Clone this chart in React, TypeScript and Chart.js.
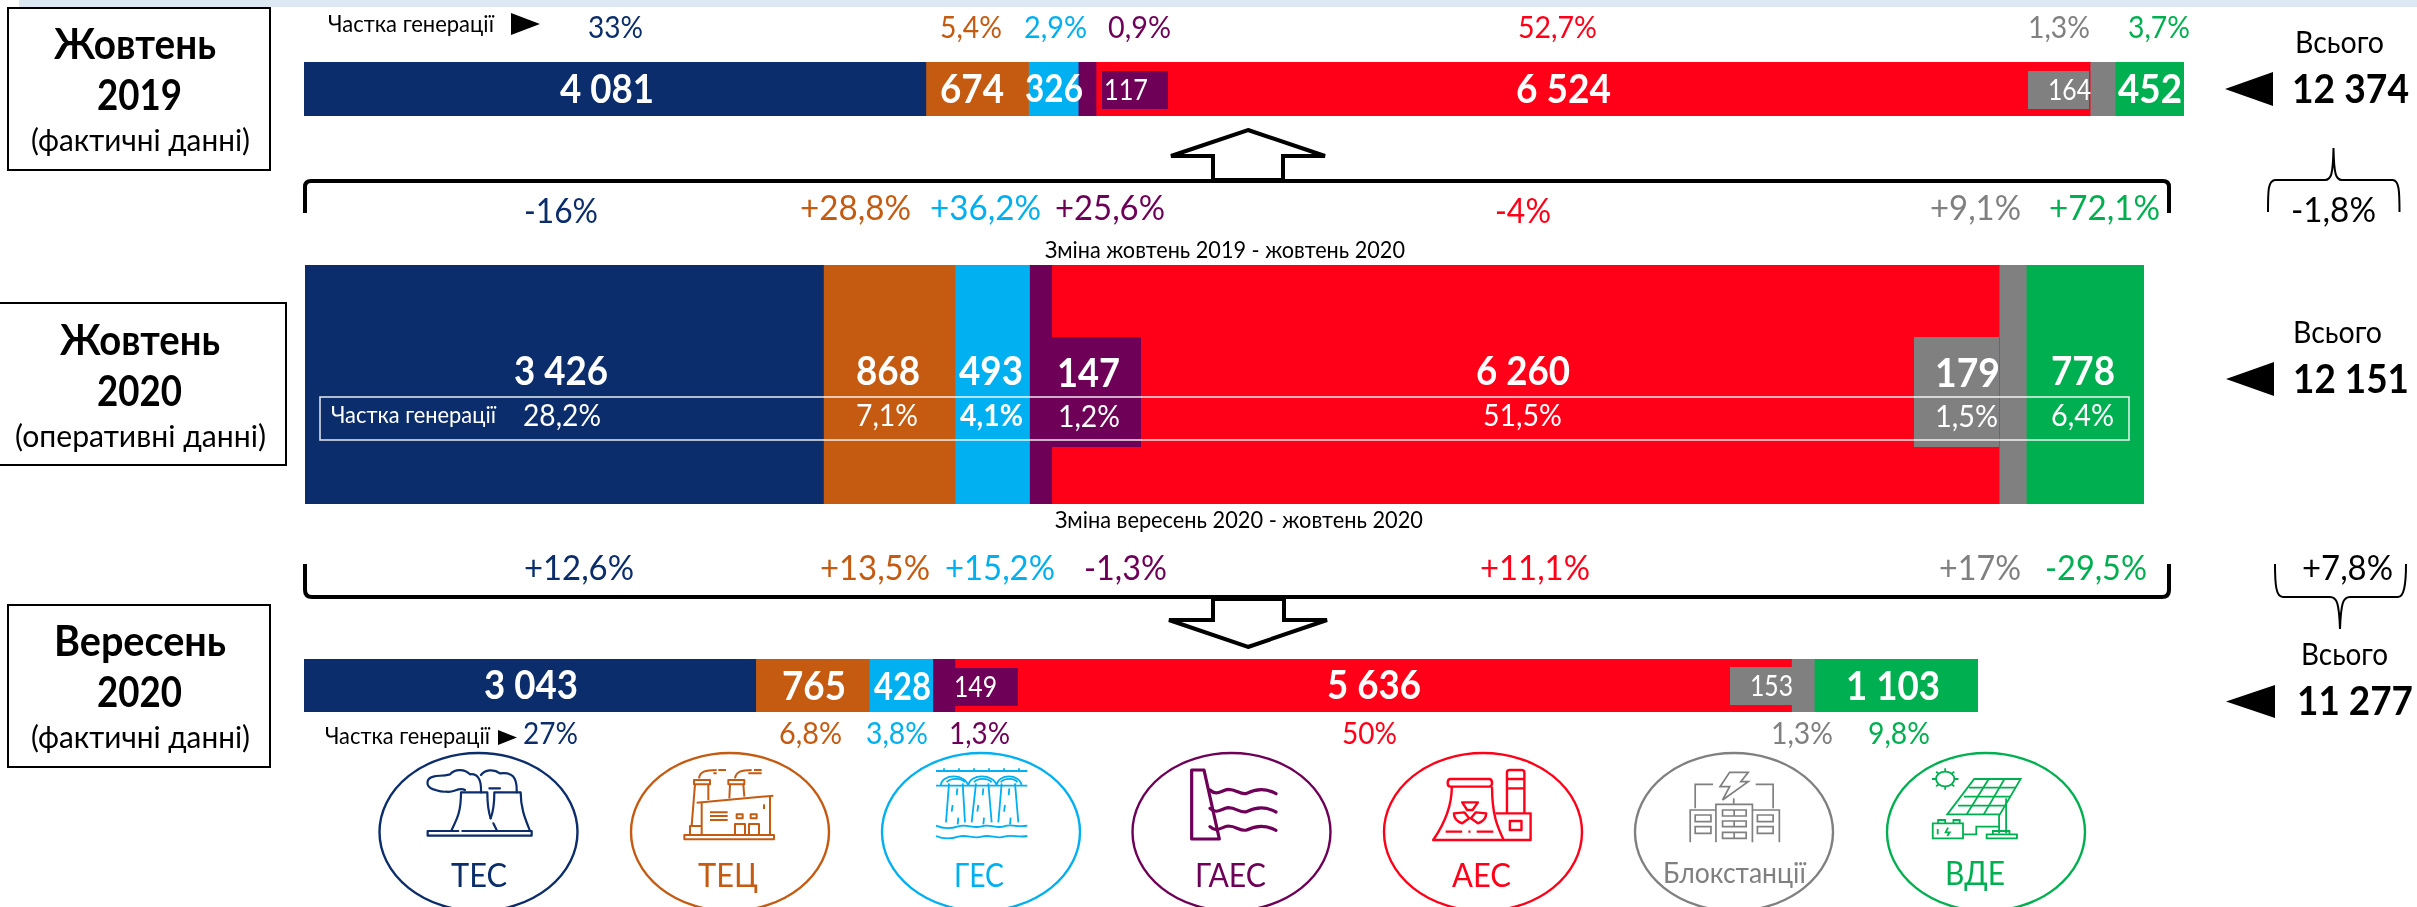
import React, { useEffect, useRef } from "react";
import { Chart, registerables } from "chart.js";

Chart.register(...registerables);

const categories = ["ТЕС", "ТЕЦ", "ГЕС", "ГАЕС", "АЕС", "Блокстанції", "ВДЕ"];
const oct2019 = [4081, 674, 326, 117, 6524, 164, 452];
const oct2020 = [3426, 868, 493, 147, 6260, 179, 778];
const sep2020 = [3043, 765, 428, 149, 5636, 153, 1103];
const share2019 = [33, 5.4, 2.9, 0.9, 52.7, 1.3, 3.7];
const share2020 = [28.2, 7.1, 4.1, 1.2, 51.5, 1.5, 6.4];
const shareSep = [27, 6.8, 3.8, 1.3, 50, 1.3, 9.8];
const changeYear = [-16, 28.8, 36.2, 25.6, -4, 9.1, 72.1];
const changeMonth = [12.6, 13.5, 15.2, -1.3, 11.1, 17, -29.5];
const totals = [12374, 12151, 11277];
const totalChanges = [-1.8, 7.8];

const COLORS = ["#0b2d6b", "#c55a11", "#00b0f0", "#6e0058", "#ff0018", "#808080", "#00b050"];
const FONT = "Lato, Carlito, 'Open Sans', sans-serif";

const num = (v: number) => String(v).replace(/\B(?=(\d{3})+$)/g, " ");
const pct = (v: number) => String(v).replace(".", ",") + "%";
const signed = (v: number) => (v > 0 ? "+" : "") + pct(v);

type Box = [number, number, number, number, number];

// layout: x1, x2, baseline, font size, weight
const bar1Layout: Box[] = [
  [560, 654, 103, 36, 700], [940, 1004, 103, 36, 700], [1025, 1083, 102, 34, 700], [1104, 1148, 100, 25, 400],
  [1516, 1611, 103, 36, 700], [2048, 2091, 100, 25, 400], [2118, 2182, 103, 36, 700],
];
const bar2Layout: Box[] = [
  [514, 608, 385, 36, 700], [856, 920, 385, 36, 700], [959, 1023, 385, 36, 700], [1057, 1120, 387, 36, 700],
  [1476, 1570, 385, 36, 700], [1935, 2000, 387, 36, 700], [2051, 2115, 385, 36, 700],
];
const bar3Layout: Box[] = [
  [484, 578, 699, 36, 700], [782, 846, 700, 36, 700], [874, 931, 700, 34, 700], [954, 997, 697, 25, 400],
  [1327, 1421, 699, 36, 700], [1750, 1793, 696, 25, 400], [1846, 1940, 700, 36, 700],
];
const share1Layout: Box[] = [
  [588, 643, 38, 28, 400], [940, 1002, 38, 28, 400], [1024, 1087, 38, 28, 400], [1108, 1171, 38, 28, 400],
  [1518, 1597, 38, 28, 400], [2028, 2090, 38, 28, 400], [2128, 2190, 38, 28, 400],
];
const share2Layout: Box[] = [
  [523, 601, 426, 28, 400], [856, 918, 426, 28, 400], [960, 1023, 426, 28, 700], [1058, 1120, 427, 28, 400],
  [1483, 1562, 426, 28, 400], [1935, 1998, 427, 28, 400], [2051, 2114, 426, 28, 400],
];
const share3Layout: Box[] = [
  [523, 578, 744, 28, 400], [779, 842, 744, 28, 400], [866, 928, 744, 28, 400], [949, 1010, 744, 28, 400],
  [1342, 1397, 744, 28, 400], [1771, 1833, 744, 28, 400], [1868, 1930, 744, 28, 400],
];
const change1Layout: Box[] = [
  [524, 598, 223, 31, 400], [800, 911, 220, 31, 400], [930, 1041, 220, 31, 400], [1055, 1165, 220, 31, 400],
  [1495, 1551, 223, 31, 400], [1930, 2021, 220, 31, 400], [2049, 2160, 220, 31, 400],
];
const change2Layout: Box[] = [
  [524, 634, 580, 31, 400], [820, 930, 580, 31, 400], [945, 1055, 580, 31, 400], [1084, 1167, 580, 31, 400],
  [1480, 1590, 580, 31, 400], [1939, 2021, 580, 31, 400], [2045, 2147, 580, 31, 400],
];
const ellipseCx = [478.5, 730, 981, 1231.5, 1483, 1734, 1986];
const iconLabelLayout: Box[] = [
  [451, 507, 887, 30, 400], [698, 758, 887, 30, 400], [954, 1004, 887, 30, 400], [1195, 1266, 887, 30, 400],
  [1452, 1511, 887, 30, 400], [1663, 1806, 883, 26, 400], [1945, 2005, 885, 30, 400],
];
const barRects: [number[], number, number, number][] = [
  [oct2019, 304, 62, 1880],
  [oct2020, 305, 265, 1839],
  [sep2020, 304, 659, 1674],
];
const barHeights = [54, 239, 53];

const SIZE_FACTOR = 1.12;

function T({ t, b, fill }: { t: string; b: Box; fill: string }) {
  const [x1, x2, y, size, weight] = b;
  return (
    <text x={x1} y={y} textLength={x2 - x1} lengthAdjust="spacingAndGlyphs" fontSize={size * SIZE_FACTOR} fontWeight={weight} fill={fill} fontFamily={FONT}>
      {t}
    </text>
  );
}

function TesIcon() {
  return (
    <g transform="translate(400,755) scale(0.33333)" fill="none" stroke={COLORS[0]} strokeWidth="2.2" strokeLinejoin="round" strokeLinecap="round">
      <path vectorEffect="non-scaling-stroke" d="M175,228 H83 V242 H395 V228 H187" />
      <path vectorEffect="non-scaling-stroke" d="M155,225 C172,190 183,170 183,112 H262 C262,150 265,170 272,190" />
      <path vectorEffect="non-scaling-stroke" d="M280,205 L290,225" />
      <path vectorEffect="non-scaling-stroke" d="M390,228 C375,190 362,160 362,112 H283 C283,150 280,170 272,190" />
      <path vectorEffect="non-scaling-stroke" d="M195,105 C175,95 160,115 140,110 C120,112 110,105 100,103 C75,95 78,70 100,65 C115,60 125,65 150,58 C165,40 195,42 210,58 C230,55 245,70 243,112" />
      <path vectorEffect="non-scaling-stroke" d="M243,60 C255,45 280,40 300,55 C335,50 352,65 350,112" />
      <path vectorEffect="non-scaling-stroke" d="M268,100 H300" />
    </g>
  );
}

function TecIcon() {
  const ds = [
    "M853,240 H1122 V253 H853 Z", "M875,212 L885,88", "M925,135 L925,88", "M882,75 H930 V88 H882 Z", "M985,75 H1033 V88 H985 Z",
    "M990,88 L988,130", "M1030,88 L1033,125", "M890,143 L1120,122", "M905,143 V240", "M1110,125 V240", "M870,240 V213 H905",
    "M897,70 C900,50 915,45 950,45 M955,45 H978 M940,55 H950", "M1005,70 C1008,50 1025,45 1055,45 M1062,45 H1085 M1045,55 H1085",
    "M930,172 H983 M930,183 H983 M930,195 H983", "M1010,178 H1028 V190 H1010 Z", "M1052,178 H1070 V190 H1052 Z",
    "M1005,240 V207 H1035 V240", "M1047,240 V207 H1077 V240", "M1092,148 V162",
  ];
  return (
    <g transform="translate(400,755) scale(0.33333)" fill="none" stroke={COLORS[1]} strokeWidth="2" strokeLinejoin="round">
      {ds.map((d, i) => <path key={i} vectorEffect="non-scaling-stroke" d={d} />)}
    </g>
  );
}

function GesIcon() {
  const ds = [
    "M108,48 H382", "M132,40 V48 M177,40 V48 M222,40 V48 M267,40 V48 M312,40 V48 M357,40 V48", "M108,92 H382",
    "M122,92 C125,55 195,55 205,92 C208,55 282,55 290,92 C293,55 360,55 365,92", "M140,82 C150,68 185,68 195,82 M222,82 C232,68 265,68 275,82 M302,82 C312,68 345,68 352,82",
    "M147,85 L138,202", "M188,85 L195,202", "M228,85 L215,202", "M265,85 L275,202", "M305,85 L295,202", "M345,85 L355,202",
    "M172,100 L170,120 M158,150 L155,170 M175,188 L173,208 M250,100 L248,120 M235,150 L232,170 M252,188 L250,208 M328,100 L326,120 M315,150 L312,170 M332,188 L330,208",
    "M108,212 C130,222 150,222 175,214 C200,206 220,222 245,214 C270,206 290,222 312,214 C335,206 355,218 382,212",
    "M108,243 C130,253 150,253 175,245 C200,237 220,253 245,245 C270,237 290,253 312,245 C335,237 355,249 382,243",
  ];
  return (
    <g transform="translate(900,755) scale(0.33333)" fill="none" stroke={COLORS[2]} strokeWidth="1.8">
      {ds.map((d, i) => <path key={i} vectorEffect="non-scaling-stroke" d={d} />)}
    </g>
  );
}

function GaesIcon() {
  const wave = (y: number) => `M930,${y - 10} C950,${y + 10} 965,${y - 10} 985,${y - 12} C1010,${y - 12} 1020,${y + 5} 1040,${y} C1060,${y - 10} 1090,${y - 20} 1128,${y + 1}`;
  return (
    <g transform="translate(900,755) scale(0.33333)" fill="none" stroke={COLORS[3]} strokeWidth="3.2" strokeLinejoin="round" strokeLinecap="round">
      <path vectorEffect="non-scaling-stroke" d="M875,45 H912 L958,252 H875 Z" />
      <path vectorEffect="non-scaling-stroke" d={wave(115)} />
      <path vectorEffect="non-scaling-stroke" d={wave(170)} />
      <path vectorEffect="non-scaling-stroke" d={wave(225)} />
    </g>
  );
}

function AesIcon() {
  const ds = [
    "M122,72 H215 Q222,72 222,84 Q222,95 215,95 H122 Q115,95 115,84 Q115,72 122,72 Z",
    "M125,95 C125,160 105,210 80,255 H315 V175 H230", "M222,95 C222,180 235,215 250,255",
    "M110,230 H150 M165,230 H170 M185,230 H225", "M258,175 V52 Q258,45 265,45 H293 Q300,45 300,52 V175", "M258,72 H300 M258,100 H300",
    "M265,198 H293 V225 H265 Z", "M150,142 H188 L175,165 H162 Z", "M130,175 L155,172 L167,190 L150,205 C138,200 130,190 130,175 Z", "M208,175 L183,172 L171,190 L188,205 C200,200 208,190 208,175 Z",
  ];
  return (
    <g transform="translate(1400,755) scale(0.41459,0.33333)" fill="none" stroke={COLORS[4]} strokeWidth="2.4" strokeLinejoin="round">
      {ds.map((d, i) => <path key={i} vectorEffect="non-scaling-stroke" d={d} />)}
    </g>
  );
}

function BlockIcon() {
  const ds = [
    "M795,52 H840 L822,80 H840 L778,135 L795,95 H772 Z", "M755,88 H712 V160", "M858,88 H900 V160", "M762,262 V148 H850 V262", "M805,130 V148",
    "M762,165 H700 V262", "M850,165 H915 V262", "M778,165 H835 V183 H778 Z", "M778,198 H835 V215 H778 Z", "M778,232 H835 V250 H778 Z",
    "M712,180 H750 V200 H712 Z", "M712,215 H750 V235 H712 Z", "M862,180 H900 V200 H862 Z", "M862,215 H900 V235 H862 Z", "M806,165 V183 M806,198 V215 M806,232 V250",
  ];
  return (
    <g transform="translate(1400,755) scale(0.41459,0.33333)" fill="none" stroke={COLORS[5]} strokeWidth="1.7">
      {ds.map((d, i) => <path key={i} vectorEffect="non-scaling-stroke" d={d} />)}
    </g>
  );
}

function VdeIcon() {
  const ds = [
    "M1385,72 H1497 L1447,178 H1320 Z", "M1420,72 L1367,178", "M1458,72 L1408,178", "M1372,98 H1485 M1360,125 H1472 M1346,152 H1460",
    "M1445,178 V235", "M1462,130 V235", "M1415,238 H1488 V250 H1415 Z", "M1430,238 V228 H1470 V238",
    "M1285,205 H1358 V250 H1285 Z", "M1298,205 V195 H1315 V205 M1335,205 V195 H1350 V205", "M1297,222 V238", "M1322,218 L1316,232 H1326 L1320,243", "M1358,238 H1390 V215 H1445",
    "M1315,40 V50 M1315,94 V104 M1283,72 H1293 M1337,72 H1347 M1293,50 L1300,57 M1337,50 L1330,57 M1293,94 L1300,87 M1337,94 L1330,87",
    "M1337,72 A22,22 0 1,1 1293,72 A22,22 0 1,1 1337,72 Z",
  ];
  return (
    <g transform="translate(1400,755) scale(0.41459,0.33333)" fill="none" stroke={COLORS[6]} strokeWidth="1.8">
      {ds.map((d, i) => <path key={i} vectorEffect="non-scaling-stroke" d={d} />)}
    </g>
  );
}

export default function App() {
  const r1 = useRef<HTMLCanvasElement>(null);
  const r2 = useRef<HTMLCanvasElement>(null);
  const r3 = useRef<HTMLCanvasElement>(null);

  useEffect(() => {
    const refs = [r1, r2, r3];
    const charts = barRects.map(([values], k) =>
      new Chart(refs[k].current!, {
        type: "bar",
        data: {
          labels: [""],
          datasets: categories.map((c, i) => ({
            label: c,
            data: [values[i]],
            backgroundColor: COLORS[i],
            borderWidth: 0,
            barPercentage: 1,
            categoryPercentage: 1,
          })),
        },
        options: {
          indexAxis: "y",
          responsive: false,
          animation: false,
          layout: { padding: 0 },
          plugins: { legend: { display: false }, tooltip: { enabled: false } },
          scales: {
            x: { stacked: true, display: false, min: 0, max: values.reduce((a, b) => a + b, 0) },
            y: { stacked: true, display: false },
          },
        },
      } as any)
    );
    return () => charts.forEach((c) => c.destroy());
  }, []);

  const refs = [r1, r2, r3];
  return (
    <div style={{ position: "absolute", left: 0, top: 0, width: 2417, height: 907, overflow: "hidden", background: "#fff" }}>
      <div style={{ position: "absolute", left: 19, top: 0, width: 2398, height: 7, background: "#dde8f5" }} />
      {barRects.map(([, x, y, w], k) => (
        <canvas key={k} ref={refs[k]} width={w} height={barHeights[k]} style={{ position: "absolute", left: x, top: y, width: w, height: barHeights[k], display: "block" }} />
      ))}
      <svg width={2417} height={907} style={{ position: "absolute", left: 0, top: 0 }}>
        {/* period boxes */}
        <rect x={8} y={8} width={262} height={162} fill="#fff" stroke="#000" strokeWidth={2} />
        <rect x={-2} y={303} width={288} height={162} fill="#fff" stroke="#000" strokeWidth={2} />
        <rect x={8} y={605} width={262} height={162} fill="#fff" stroke="#000" strokeWidth={2} />
        <T t="Жовтень" b={[54, 216, 59, 37, 700]} fill="#000" />
        <T t="2019" b={[97, 182, 110, 37, 700]} fill="#000" />
        <T t="(фактичні данні)" b={[31, 250, 151, 28, 400]} fill="#000" />
        <T t="Жовтень" b={[60, 220, 355, 37, 700]} fill="#000" />
        <T t="2020" b={[97, 182, 406, 37, 700]} fill="#000" />
        <T t="(оперативні данні)" b={[15, 266, 447, 28, 400]} fill="#000" />
        <T t="Вересень" b={[54, 226, 656, 37, 700]} fill="#000" />
        <T t="2020" b={[97, 182, 707, 37, 700]} fill="#000" />
        <T t="(фактичні данні)" b={[31, 250, 748, 28, 400]} fill="#000" />

        {/* insets behind the small values */}
        <rect x={1102} y={71} width={66} height={38} fill={COLORS[3]} />
        <rect x={2028} y={71} width={61} height={38} fill={COLORS[5]} />
        <rect x={1051} y={337} width={90} height={110} fill={COLORS[3]} />
        <rect x={1914} y={337} width={85} height={110} fill={COLORS[5]} />
        <rect x={955} y={668} width={63} height={38} fill={COLORS[3]} />
        <rect x={1730} y={667} width={63} height={38} fill={COLORS[5]} />
        <rect x={320} y={397} width={1809} height={43} fill="none" stroke="#fff" strokeOpacity={0.85} strokeWidth={1.6} />

        {/* values */}
        {oct2019.map((v, i) => <T key={i} t={num(v)} b={bar1Layout[i]} fill="#fff" />)}
        {oct2020.map((v, i) => <T key={i} t={num(v)} b={bar2Layout[i]} fill="#fff" />)}
        {sep2020.map((v, i) => <T key={i} t={num(v)} b={bar3Layout[i]} fill="#fff" />)}
        {/* shares */}
        {share2019.map((v, i) => <T key={i} t={pct(v)} b={share1Layout[i]} fill={COLORS[i]} />)}
        {share2020.map((v, i) => <T key={i} t={pct(v)} b={share2Layout[i]} fill="#fff" />)}
        {shareSep.map((v, i) => <T key={i} t={pct(v)} b={share3Layout[i]} fill={COLORS[i]} />)}
        <T t="Частка генерації" b={[328, 494, 32, 21, 400]} fill="#000" />
        <T t="Частка генерації" b={[331, 496, 423, 21, 400]} fill="#fff" />
        <T t="Частка генерації" b={[325, 490, 744, 21, 400]} fill="#000" />
        <polygon points="511,13 540,24 511,35" fill="#000" />
        <polygon points="498,730 517,737.5 498,745" fill="#000" />
        {/* changes */}
        {changeYear.map((v, i) => <T key={i} t={signed(v)} b={change1Layout[i]} fill={COLORS[i]} />)}
        {changeMonth.map((v, i) => <T key={i} t={signed(v)} b={change2Layout[i]} fill={COLORS[i]} />)}
        <T t="Зміна жовтень 2019 - жовтень 2020" b={[1045, 1405, 258, 20, 400]} fill="#000" />
        <T t="Зміна вересень 2020 - жовтень 2020" b={[1055, 1423, 528, 20, 400]} fill="#000" />

        {/* brackets and arrows */}
        <path d="M305,213 L305,187 Q305,181 311,181 L2163,181 Q2169,181 2169,187 L2169,213" fill="none" stroke="#000" strokeWidth={4} />
        <path d="M305,564 L305,590 Q305,597 312,597 L2162,597 Q2169,597 2169,590 L2169,564" fill="none" stroke="#000" strokeWidth={4} />
        <polygon points="1248,130 1325,156 1283,156 1283,180 1213,180 1213,156 1171,156" fill="#fff" stroke="#000" strokeWidth={4} />
        <polygon points="1248,647 1327,620 1284,620 1284,599 1213,599 1213,620 1169,620" fill="#fff" stroke="#000" strokeWidth={4} />
        <path d="M2268,212 C2268,190 2268,181 2275,180 L2325,180 C2331,180 2333,175 2333.5,148 C2334,175 2336,180 2342,180 L2393,180 C2399,181 2399.5,190 2399.5,212" fill="none" stroke="#000" strokeWidth={2} />
        <path d="M2275,564 C2275,585 2276,597 2283,597 L2330,597 C2337,597 2339,603 2340,629 C2341,603 2343,597 2350,597 L2398,597 C2404,597 2406,585 2406,564" fill="none" stroke="#000" strokeWidth={2} />

        {/* totals */}
        <T t="Всього" b={[2295, 2384, 53, 28, 400]} fill="#000" />
        <T t="Всього" b={[2293, 2382, 343, 28, 400]} fill="#000" />
        <T t="Всього" b={[2301, 2388, 665, 28, 400]} fill="#000" />
        <T t={num(totals[0])} b={[2292, 2409, 103, 36, 700]} fill="#000" />
        <T t={num(totals[1])} b={[2293, 2409, 393, 36, 700]} fill="#000" />
        <T t={num(totals[2])} b={[2297, 2413, 715, 36, 700]} fill="#000" />
        <polygon points="2225,89 2273,72 2273,106" fill="#000" />
        <polygon points="2226,379 2274,362 2274,396" fill="#000" />
        <polygon points="2226,701.5 2275,685 2275,718" fill="#000" />
        <T t={signed(totalChanges[0])} b={[2291, 2376, 222, 31, 400]} fill="#000" />
        <T t={signed(totalChanges[1])} b={[2302, 2393, 580, 31, 400]} fill="#000" />

        {/* icons */}
        {ellipseCx.map((cx, i) => (
          <ellipse key={i} cx={cx} cy={832} rx={99} ry={79} fill="#fff" stroke={COLORS[i]} strokeWidth={2.4} />
        ))}
        {categories.map((c, i) => <T key={i} t={c} b={iconLabelLayout[i]} fill={COLORS[i]} />)}
        <TesIcon />
        <TecIcon />
        <GesIcon />
        <GaesIcon />
        <AesIcon />
        <BlockIcon />
        <VdeIcon />
      </svg>
    </div>
  );
}
